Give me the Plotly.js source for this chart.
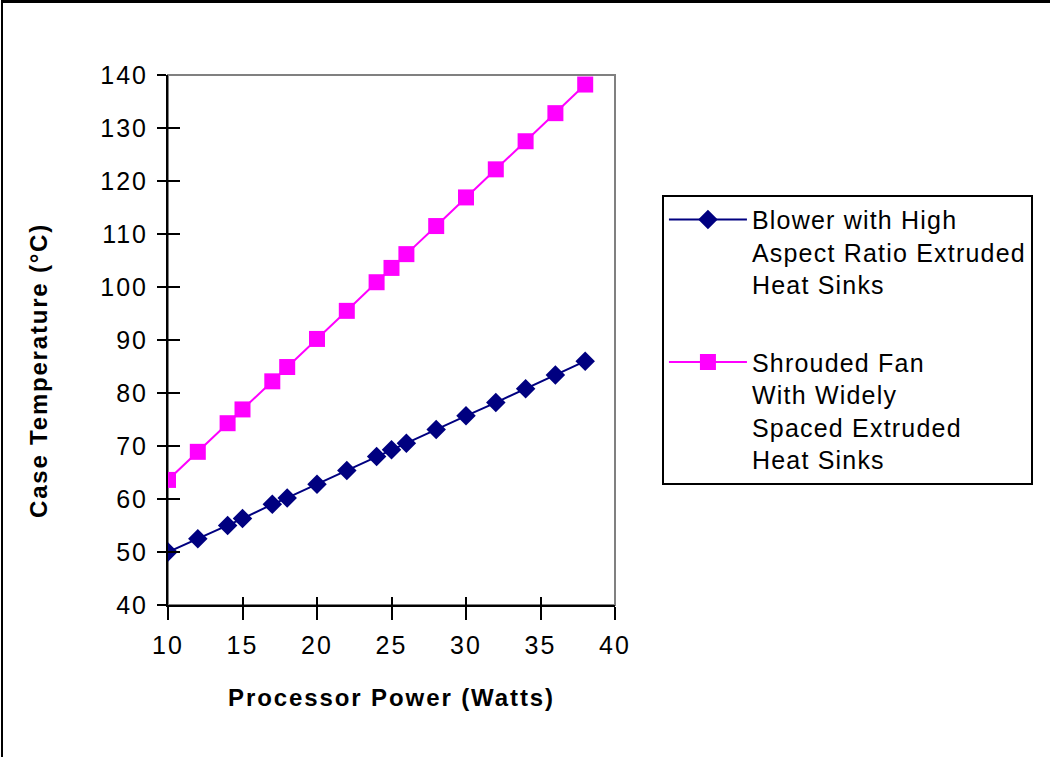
<!DOCTYPE html>
<html>
<head>
<meta charset="utf-8">
<script src="https://cdn.plot.ly/plotly-3.0.1.min.js"></script>
<style>
  html, body { margin: 0; padding: 0; background: #fff; }
  #chart { width: 1050px; height: 757px; }
  #frame { position: absolute; left: 0; top: 0; width: 1050px; height: 757px;
           border-top: 3px solid #000; border-left: 2px solid #000; box-sizing: border-box;
           pointer-events: none; margin-left: 1px; }
  .xtick text, .ytick text { letter-spacing: 2px; }
  .legendtext { letter-spacing: 1.2px; }
  .xtitle { letter-spacing: 1.9px; }
  .annotation-text { letter-spacing: 1.8px; }
</style>
</head>
<body>
<div id="chart"></div>
<div id="frame"></div>
<script>
const power = [10, 12, 14, 15, 17, 18, 20, 22, 24, 25, 26, 28, 30, 32, 34, 36, 38];
const blowerTemp = [50.0, 52.5, 55.0, 56.3, 59.0, 60.2, 62.8, 65.4, 68.0, 69.3, 70.5, 73.1, 75.7, 78.2, 80.8, 83.4, 86.0];
const shroudedTemp = [63.6, 68.9, 74.3, 76.9, 82.2, 84.9, 90.2, 95.5, 100.9, 103.6, 106.2, 111.5, 116.9, 122.2, 127.5, 132.8, 138.2];
const seriesNames = [
  "Blower with High<br>Aspect Ratio Extruded<br>Heat Sinks",
  "Shrouded Fan<br>With Widely<br>Spaced Extruded<br>Heat Sinks"
];
const xTitle = 'Processor Power (Watts)';
const yTitle = 'Case Temperature (°C)';

const font = "'Liberation Sans', Arial, sans-serif";

const traces = [
  {
    x: power, y: blowerTemp, name: seriesNames[0], type: 'scatter', mode: 'lines+markers',
    line: { color: '#000080', width: 2 },
    marker: { symbol: 'diamond', size: 15, color: '#000080' },
    legendgroup: 'a'
  },
  {
    x: power, y: shroudedTemp, name: seriesNames[1], type: 'scatter', mode: 'lines+markers',
    line: { color: '#FF00FF', width: 2 },
    marker: { symbol: 'square', size: 16, color: '#FF00FF' },
    legendgroup: 'b'
  },
  { x: [], y: [], xaxis: 'x2', yaxis: 'y2', showlegend: false, hoverinfo: 'skip' }
];

const layout = {
  width: 1050, height: 757,
  margin: { l: 168, r: 435, t: 75, b: 152, autoexpand: false },
  paper_bgcolor: '#fff', plot_bgcolor: '#fff',
  font: { family: font, color: '#000' },
  showlegend: true,
  xaxis: {
    range: [10, 40], tick0: 10, dtick: 5, showgrid: false, zeroline: false,
    showline: true, linecolor: '#000', linewidth: 2,
    ticks: 'outside', ticklen: 13, tickwidth: 2, tickcolor: '#000',
    ticklabelstandoff: 4,
    tickfont: { size: 25, family: font },
    title: { text: xTitle, font: { size: 24, family: font, weight: 'bold' }, standoff: 31 },
    automargin: false
  },
  yaxis: {
    range: [40, 140], tick0: 40, dtick: 10, showgrid: false, zeroline: false,
    showline: true, linecolor: '#000', linewidth: 2,
    ticks: 'outside', ticklen: 9, tickwidth: 2, tickcolor: '#000',
    ticklabelstandoff: 4,
    tickfont: { size: 25, family: font },
    automargin: false
  },
  xaxis2: {
    overlaying: 'x', range: [10, 40], tick0: 10, dtick: 5, side: 'bottom',
    showgrid: false, zeroline: false, showline: false, showticklabels: false,
    ticks: 'inside', ticklen: 8, tickwidth: 2, tickcolor: '#000', anchor: 'y2'
  },
  yaxis2: {
    overlaying: 'y', range: [40, 140], tick0: 40, dtick: 10, side: 'left',
    showgrid: false, zeroline: false, showline: false, showticklabels: false,
    ticks: 'inside', ticklen: 12, tickwidth: 2, tickcolor: '#000', anchor: 'x2'
  },
  annotations: [
    { text: yTitle, xref: 'paper', yref: 'paper', x: -0.2886, y: 0.4434,
      xanchor: 'center', yanchor: 'middle', textangle: -90, showarrow: false,
      font: { size: 24, family: font, weight: 'bold', color: '#000' } }
  ],
  shapes: [
    { type: 'rect', xref: 'paper', yref: 'paper', x0: 0, x1: 1, y0: 0, y1: 1,
      line: { color: '#808080', width: 2 }, layer: 'below' }
  ],
  legend: {
    x: 1.105, y: 0.774, xanchor: 'left', yanchor: 'top',
    bordercolor: '#000', borderwidth: 2, bgcolor: '#fff',
    font: { size: 25, family: font, color: '#000' },
    valign: 'top', traceorder: 'grouped', tracegroupgap: 42,
    itemwidth: 78
  }
};

Plotly.newPlot('chart', traces, layout, { staticPlot: true, displayModeBar: false });
</script>
</body>
</html>
